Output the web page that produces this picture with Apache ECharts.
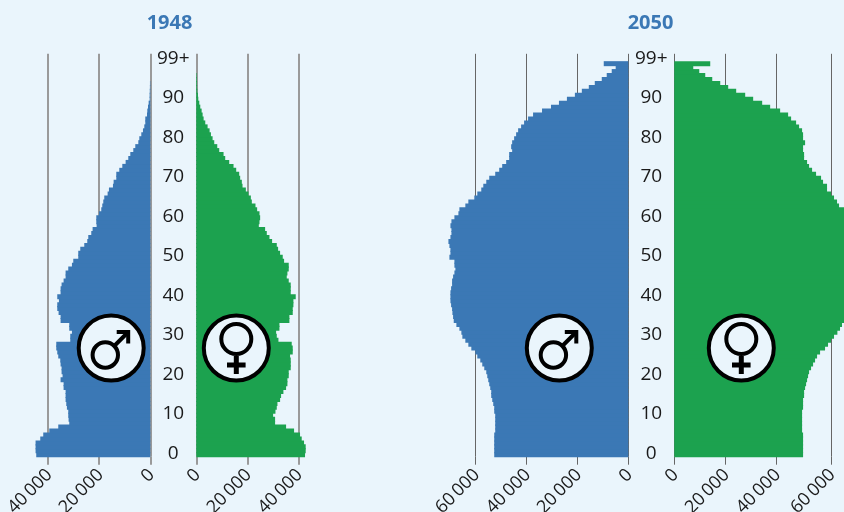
<!DOCTYPE html>
<html>
<head>
<meta charset="utf-8">
<script src="https://cdn.jsdelivr.net/npm/echarts@6/dist/echarts.min.js"></script>
<style>
  body { margin: 0; padding: 0; background: #eaf5fc; }
</style>
</head>
<body>
<div id="main" style="width:844px;height:512px;"></div>
<script type="text/javascript">
// ages 0..99, plus a slot for the 99+ label and an empty one above it
var ages = [];
for (var i = 0; i < 100; i++) ages.push(String(i));
ages.push('99+', '');

var male1948 = [
  44600,44860,44860,44860,43030,41860,39510,35990,31690,31950,
  32080,32080,32600,32860,33120,33120,33120,33900,33900,35080,
  34300,34690,34690,35080,35210,35990,36380,36770,36770,31300,
  31300,30640,31690,31690,35080,35080,35860,36380,36380,35730,
  36380,35080,35080,34690,33900,33120,33120,32080,30640,30120,
  28170,28170,27380,25820,24650,24250,23080,22560,20990,21120,
  21120,20080,19170,18780,18390,18000,16690,16170,14600,14340,
  13300,13300,12130,10950,9650,8610,7820,6650,5870,4690,
  4300,3520,2870,2350,1960,1960,1300,1170,910,650,
  260,260,200,150,130,0,0,0,0,0
];
var female1948 = [
  42640,42900,42900,42250,41340,40680,38340,35210,30900,30900,
  30120,31040,31560,31820,32860,33250,34160,35210,35730,35730,
  36250,36250,37030,37030,37030,36770,37820,37820,37420,32210,
  31560,31300,32600,32600,36510,36510,37820,37820,38080,38080,
  38990,37030,37030,37030,36250,35470,35730,36250,36250,34430,
  33900,32860,32080,31560,29730,28690,27640,26990,24520,24780,
  25040,24780,23860,23210,21780,21390,20470,19430,18130,17860,
  17210,16820,15650,14600,12910,11340,10690,9000,8220,7040,
  6390,5740,5220,4430,3520,2870,2480,2090,1560,1170,
  780,650,400,330,300,260,200,0,0,0
];
var male2050 = [
  52680,52680,52680,52680,52680,52680,52290,52290,52290,52290,
  52290,52680,52680,53070,53460,53860,53860,54250,54640,55030,
  55420,55810,56590,57380,58160,59330,60110,61680,62850,64030,
  65200,65590,66370,67550,68590,68850,69110,69240,69630,69890,
  69890,69890,69630,69240,69240,68850,68330,67940,68330,68330,
  70290,69890,69890,70290,70680,69890,69500,69500,69890,69500,
  68330,66760,66370,64030,62850,60510,59330,57770,56980,55810,
  54640,52290,50730,49550,47990,46810,46810,45640,46030,45640,
  44860,44080,43290,42120,40950,39380,37420,33900,30380,27250,
  24120,20990,18260,15520,13170,10430,8480,6520,4960,9650
];
var female2050 = [
  50460,50460,50460,50460,50460,50460,50070,50070,50070,50070,
  50070,50070,50460,50460,50460,50860,50860,51250,51640,52030,
  52420,52810,53590,54380,55160,55940,57120,59070,60240,61420,
  62590,63900,64940,65720,66900,67500,68000,68400,68800,69000,
  69200,69200,69000,68800,68600,68400,68000,67800,68000,68300,
  69500,69400,69300,69600,69800,69400,69200,69200,69400,69100,
  68200,67000,66600,64550,63770,62590,61420,59850,59850,58290,
  57510,55550,53990,52810,52030,50860,50860,50460,50460,51250,
  50460,50460,50070,48900,47730,45770,44600,41470,37560,34430,
  30900,27780,24250,21120,18000,14870,12130,9780,7430,14080
];

var ticks1948 = [0, 20000, 40000];
var ticks2050 = [0, 20000, 40000, 60000];
// the last gridline of the 2050 women sits a little further out than 60000
var ticks2050f = [0, 20000, 40000, 61400];
var tickLabels = { 0: '0', 20000: '20\u2009000', 40000: '40\u2009000', 60000: '60\u2009000', 61400: '60\u2009000' };

var bg = '#eaf5fc', blue = '#3b78b5', green = '#1ca24f', ink = '#1a1a1a';
var font = '"Open Sans"';

var panels = [
  { data: male1948,   ticks: ticks1948,  color: blue,  left: 48,    width: 102.3, inverse: true,  line: '#9a9a9a', lw: 2 },
  { data: female1948, ticks: ticks1948,  color: green, left: 196.3, width: 102,   inverse: false, line: '#9a9a9a', lw: 2 },
  { data: male2050,   ticks: ticks2050,  color: blue,  left: 475.6, width: 152.7, inverse: true,  line: '#666',    lw: 1 },
  { data: female2050, ticks: ticks2050f, color: green, left: 674.3, width: 156.7, inverse: false, line: '#666',    lw: 1 }
];

var grids = [], xAxes = [], yAxes = [], series = [];
panels.forEach(function (p, i) {
  // outerBoundsMode none: the rotated labels run off the bottom, do not shrink the grid for them
  grids.push({ left: p.left, width: p.width, top: 53.8, height: 402.9, outerBoundsMode: 'none' });
  xAxes.push({
    type: 'value', gridIndex: i, min: 0, max: p.ticks[p.ticks.length - 1], inverse: p.inverse,
    axisLine: { show: false },
    axisTick: { show: true, length: 8, customValues: p.ticks, lineStyle: { color: p.line, width: p.lw } },
    splitLine: { show: true, lineStyle: { color: p.line, width: p.lw } },
    axisLabel: {
      rotate: 45, margin: 14, customValues: p.ticks,
      formatter: function (v) { return '{t|' + tickLabels[v] + '}'; },
      // rich padding: plain padding does not move the text
      rich: { t: { fontFamily: font, fontSize: 18, color: ink, padding: [4, 0, 0, 0] } }
    }
  });
  yAxes.push({
    type: 'category', gridIndex: i, data: ages, position: 'right',
    axisLine: { show: false }, axisTick: { show: false }, splitLine: { show: false },
    axisLabel: {
      show: p.inverse, interval: 9, align: 'center', margin: 23,
      formatter: '{a|{value}}',
      rich: { a: { fontFamily: font, fontSize: 19, color: ink, padding: [0, 0, 3, 0] } }
    }
  });
  series.push({
    type: 'bar', xAxisIndex: i, yAxisIndex: i, data: p.data, barWidth: 5,
    clip: false, silent: true, itemStyle: { color: p.color }
  });
});

function ring(cx, cy) {
  return { type: 'circle', shape: { cx: cx, cy: cy, r: 32.5 }, style: { fill: bg, stroke: '#000', lineWidth: 4 }, z: 10 };
}
function stroke(x1, y1, x2, y2, w) {
  return { type: 'line', shape: { x1: x1, y1: y1, x2: x2, y2: y2 }, style: { stroke: '#000', lineWidth: w }, z: 11 };
}
function maleIcon(cx, cy) {
  return [
    ring(cx, cy),
    { type: 'circle', shape: { cx: cx - 5.9, cy: cy + 7, r: 12.7 }, style: { fill: 'none', stroke: '#000', lineWidth: 4 }, z: 11 },
    stroke(cx + 3, cy - 2, cx + 17, cy - 16, 4),
    { type: 'polygon', shape: { points: [[cx + 5.5, cy - 18], [cx + 19, cy - 18], [cx + 19, cy - 4.5], [cx + 15, cy - 4.5], [cx + 15, cy - 14], [cx + 5.5, cy - 14]] }, style: { fill: '#000' }, z: 11 }
  ];
}
function femaleIcon(cx, cy) {
  return [
    ring(cx, cy),
    { type: 'circle', shape: { cx: cx, cy: cy - 9, r: 15 }, style: { fill: 'none', stroke: '#000', lineWidth: 4 }, z: 11 },
    stroke(cx, cy + 8, cx, cy + 26, 5),
    stroke(cx - 9.3, cy + 17, cx + 9.3, cy + 17, 5)
  ];
}

var myChart = echarts.init(document.getElementById('main'));
myChart.setOption({
  backgroundColor: bg,
  animation: false,
  title: [
    { text: '1948', left: 164.5, top: 8, textAlign: 'center', textStyle: { fontFamily: font, fontSize: 20, fontWeight: 'bold', color: blue } },
    { text: '2050', left: 645.5, top: 8, textAlign: 'center', textStyle: { fontFamily: font, fontSize: 20, fontWeight: 'bold', color: blue } }
  ],
  grid: grids,
  xAxis: xAxes,
  yAxis: yAxes,
  series: series,
  graphic: [].concat(maleIcon(111.2, 348), femaleIcon(236.3, 348), maleIcon(559.3, 348), femaleIcon(741.3, 348))
});
</script>
</body>
</html>
